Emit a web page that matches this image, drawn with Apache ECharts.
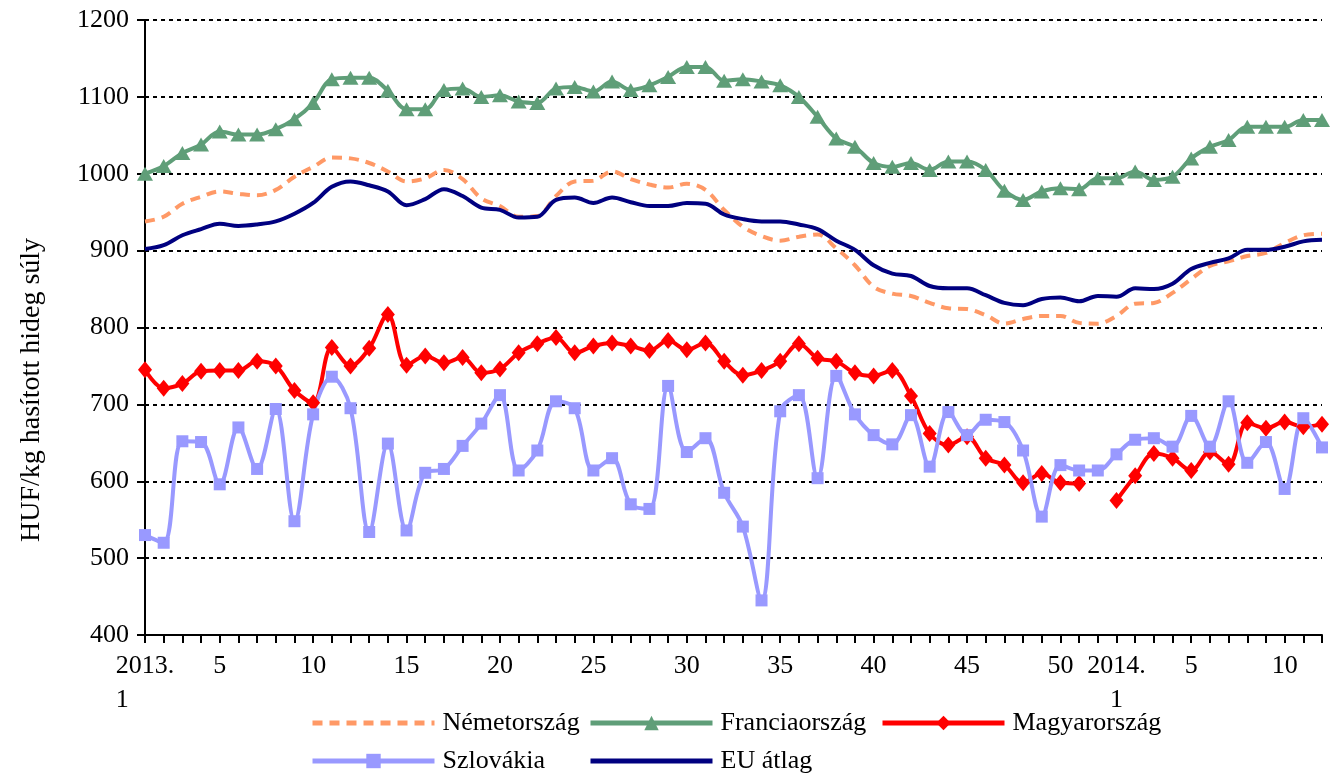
<!DOCTYPE html>
<html>
<head>
<meta charset="utf-8">
<script src="https://cdn.jsdelivr.net/npm/echarts@6/dist/echarts.min.js"></script>
<style>
html,body{margin:0;padding:0;background:#fff;}
#chart{width:1332px;height:774px;}
</style>
</head>
<body>
<div id="chart"></div>
<script>
// x categories: weeks of 2013 and 2014
const weeks = [
  '2013. 1','2','3','4','5','6','7','8','9','10','11','12','13','14','15','16','17','18','19','20',
  '21','22','23','24','25','26','27','28','29','30','31','32','33','34','35','36','37','38','39','40',
  '41','42','43','44','45','46','47','48','49','50','51','52',
  '2014. 1','2','3','4','5','6','7','8','9','10','11','12'
];

const germany = [938,944,961,970,977,974,972,979,996,1009,1021,1020,1014,1003,990,994,
  1005,993,968,958,944,945,971,990,991,1003,993,986,982,987,979,953,
  931,919,913,918,921,903,881,853,844,841,832,825,824,816,805,
  811,815,815,806,805,815,831,832,845,863,880,886,893,897,910,920,922];

const france = [1000,1010,1027,1038,1055,1051,1051,1058,1071,1092,1123,1125,1125,1108,1084,1084,
  1109,1111,1100,1102,1094,1092,1111,1113,1107,1120,1109,1115,1126,1139,1139,1121,
  1123,1120,1115,1100,1074,1046,1035,1014,1009,1014,1005,1016,1016,1005,978,
  966,977,981,980,994,994,1003,992,996,1020,1035,1044,1061,1061,1061,1070,1070];

const hungary = [745,721,727,743,744,744,756,750,718,702,774,750,773,817,751,763,
  754,761,741,746,767,779,787,767,776,780,776,770,783,771,780,756,
  738,744,756,779,760,756,741,737,744,711,662,647,658,630,621,
  598,610,598,597,null,575,607,636,630,614,638,622,676,669,677,671,674];

const slovakia = [530,520,652,651,596,670,616,694,548,687,736,695,534,649,536,611,
  616,646,675,712,614,640,704,695,614,630,570,564,724,638,656,585,
  541,445,691,712,604,737,687,660,648,686,619,690,660,680,677,
  640,554,621,614,614,635,654,656,645,685,645,704,624,651,590,682,644];

const euAvg = [902,907,920,928,935,932,934,938,948,962,983,990,985,977,959,967,
  980,971,956,953,943,944,966,969,962,969,963,958,958,962,961,947,
  941,938,938,934,928,913,901,881,870,867,854,851,851,842,832,
  829,837,839,834,841,840,851,850,857,876,884,890,901,901,905,912,914];

const yTitle = 'HUF/kg hasított hideg súly';

const FONT = "'Liberation Serif','Times New Roman',serif";
const C = {
  de: '#FF9966',
  fr: '#5F9E78',
  hu: '#FF0000',
  sk: '#9999FF',
  eu: '#000080'
};
const SMOOTH = 0.35;

const chart = echarts.init(document.getElementById('chart'), null, {renderer: 'canvas'});

const legendBase = {
  itemWidth: 122,
  itemHeight: 18,
  selectedMode: false,
  lineStyle: {width: 5},
  textStyle: {fontSize: 26, fontFamily: FONT, color: '#000', padding: [0, 0, 0, 3]}
};
const legendItems = [
  {name: 'Németország', left: 305, top: 705, hideSymbol: true},
  {name: 'Franciaország', left: 583, top: 705},
  {name: 'Magyarország', left: 875, top: 705},
  {name: 'Szlovákia', left: 305, top: 743},
  {name: 'EU átlag', left: 583, top: 743, hideSymbol: true}
];

const option = {
  animation: false,
  backgroundColor: '#fff',
  grid: {left: 145, right: 10, top: 20, bottom: 139, containLabel: false},
  legend: legendItems.map(it => Object.assign({}, legendBase, {
    left: it.left, top: it.top,
    data: [it.hideSymbol ? {name: it.name, itemStyle: {opacity: 0}} : {name: it.name}]
  })),
  graphic: [{
    type: 'text',
    x: 32, y: 390,
    rotation: Math.PI / 2,
    style: {text: yTitle, fontSize: 28, fontFamily: FONT, fill: '#000', align: 'center', verticalAlign: 'middle'}
  }],
  xAxis: {
    type: 'category',
    data: weeks,
    boundaryGap: false,
    axisLine: {lineStyle: {color: '#000', width: 2}},
    axisTick: {show: true, interval: 0, length: 8, lineStyle: {color: '#000', width: 2}},
    axisLabel: {
      interval: (idx, val) => val.indexOf('. ') > 0 || (+val % 5 === 0),
      formatter: (val) => {
        if (val.indexOf('. ') > 0) {
          const parts = val.split('. ');
          const st = parts[0] === '2013' ? 'b' : 'c';
          return '{a|' + parts[0] + '.}\n{' + st + '|' + parts[1] + '}';
        }
        return val;
      },
      margin: 14,
      color: '#000',
      fontSize: 26,
      fontFamily: FONT,
      lineHeight: 34,
      rich: {
        a: {fontSize: 26, fontFamily: FONT, color: '#000', lineHeight: 34},
        b: {fontSize: 26, fontFamily: FONT, color: '#000', lineHeight: 34, align: 'left'},
        c: {fontSize: 26, fontFamily: FONT, color: '#000', lineHeight: 34, align: 'center'}
      }
    },
    splitLine: {show: false}
  },
  yAxis: {
    type: 'value',
    min: 400, max: 1200, interval: 100,
    axisLine: {show: true, lineStyle: {color: '#000', width: 2}},
    axisTick: {show: true, length: 8, lineStyle: {color: '#000', width: 2}},
    axisLabel: {margin: 16, color: '#000', fontSize: 26, fontFamily: FONT, formatter: v => String(v)},
    splitLine: {show: true, lineStyle: {color: '#000', width: 2, type: [4, 4]}}
  },
  series: [
    {
      name: 'Németország', type: 'line', data: germany, smooth: SMOOTH,
      symbol: 'none', color: C.de,
      lineStyle: {color: C.de, width: 4, type: [10, 7]}
    },
    {
      name: 'Franciaország', type: 'line', data: france, smooth: SMOOTH,
      symbol: 'triangle', symbolSize: [16, 14], showAllSymbol: true, color: C.fr,
      lineStyle: {color: C.fr, width: 4}, itemStyle: {color: C.fr}
    },
    {
      name: 'Magyarország', type: 'line', data: hungary, smooth: SMOOTH, connectNulls: false,
      symbol: 'diamond', symbolSize: [14, 17], showAllSymbol: true, color: C.hu,
      lineStyle: {color: C.hu, width: 4}, itemStyle: {color: C.hu}
    },
    {
      name: 'Szlovákia', type: 'line', data: slovakia, smooth: SMOOTH,
      symbol: 'rect', symbolSize: 12, showAllSymbol: true, color: C.sk,
      lineStyle: {color: C.sk, width: 4}, itemStyle: {color: C.sk}
    },
    {
      name: 'EU átlag', type: 'line', data: euAvg, smooth: SMOOTH,
      symbol: 'none', color: C.eu,
      lineStyle: {color: C.eu, width: 4}
    }
  ]
};

chart.setOption(option);
</script>
</body>
</html>
